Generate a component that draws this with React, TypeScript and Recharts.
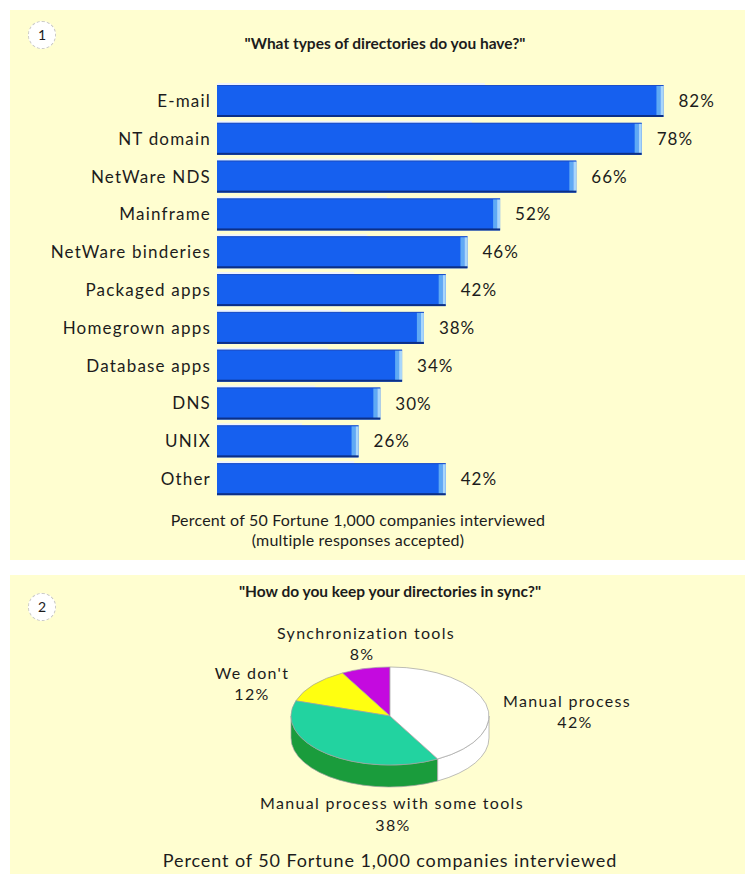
import React from "react";
import { BarChart, Bar, XAxis, YAxis, LabelList, PieChart, Pie } from "recharts";

// survey 1: directory types
const CATEGORIES = [
  "E-mail",
  "NT domain",
  "NetWare NDS",
  "Mainframe",
  "NetWare binderies",
  "Packaged apps",
  "Homegrown apps",
  "Database apps",
  "DNS",
  "UNIX",
  "Other",
];
const SHARES = [82, 78, 66, 52, 46, 42, 38, 34, 30, 26, 42];

// survey 2: sync methods
const SYNC_METHODS = [
  "Synchronization tools",
  "We don't",
  "Manual process with some tools",
  "Manual process",
];
const SYNC_SHARES = [8, 12, 38, 42];

const barRows = CATEGORIES.map((name, i) => ({ name, value: SHARES[i] }));
const pieRows = SYNC_METHODS.map((name, i) => ({ name, value: SYNC_SHARES[i] }));

const YELLOW = "#fffed0";
const FONT = "Lato, 'Open Sans', sans-serif";
const TEXT = "#1c1c1c";

const SLICE_TOP: Record<string, string> = {
  "Synchronization tools": "#c40adf",
  "We don't": "#ffff10",
  "Manual process with some tools": "#22d3a0",
  "Manual process": "#ffffff",
};
const SLICE_SIDE: Record<string, string> = {
  "Synchronization tools": "#9a08b0",
  "We don't": "#d8d800",
  "Manual process with some tools": "#1a9c3c",
  "Manual process": "#ffffff",
};
// label centre offsets from pie centre: name line, value line
const LABEL_SPOT: Record<string, [number, number, number, number]> = {
  "Synchronization tools": [-24, -84, -28, -63],
  "We don't": [-138, -44, -138, -23],
  "Manual process with some tools": [2, 86, 3, 108],
  "Manual process": [177, -16, 185, 5],
};

const TILT = 0.495;
const DEPTH = 22;
const RAD = Math.PI / 180;

function Bar3D(props: any) {
  const { x, y, width, height } = props;
  if (!width || width <= 0) return null;
  return (
    <g>
      <rect x={x} y={y - 2} width={width * 0.6} height={2} fill="#eef3ff" />
      <rect x={x} y={y} width={width} height={height} fill="#1660ef" />
      <rect x={x} y={y} width={width} height={1} fill="#1d4fc8" />
      <rect x={x + width - 7} y={y + 1} width={4} height={height - 2} fill="#5fa9f4" />
      <rect x={x + width - 3} y={y + 1} width={3} height={height - 2} fill="#a8d6fb" />
      <rect x={x} y={y + height - 2} width={width} height={2} fill="#0c2f86" />
    </g>
  );
}

function Slice3D(props: any) {
  const { cx, cy, outerRadius, startAngle, endAngle, payload } = props;
  const name = payload?.name ?? props.name;
  const rx = outerRadius;
  const ry = outerRadius * TILT;
  const pt = (a: number, dy = 0) =>
    `${cx + rx * Math.cos(a * RAD)},${cy - ry * Math.sin(a * RAD) + dy}`;
  const s = Math.min(startAngle, endAngle);
  const e = Math.max(startAngle, endAngle);
  const large = e - s > 180 ? 1 : 0;
  const top = `M${cx},${cy} L${pt(s)} A${rx},${ry} 0 ${large} 0 ${pt(e)} Z`;

  // front wall: the part of the rim between 180 and 360 degrees
  const walls: string[] = [];
  [[180, 360], [540, 720]].forEach(([lo, hi]) => {
    const a1 = Math.max(s, lo);
    const a2 = Math.min(e, hi);
    if (a2 > a1) {
      walls.push(
        `M${pt(a1)} A${rx},${ry} 0 0 0 ${pt(a2)} L${pt(a2, DEPTH)} A${rx},${ry} 0 0 1 ${pt(a1, DEPTH)} Z`
      );
    }
  });

  return (
    <g>
      {walls.map((d, i) => (
        <path key={i} d={d} fill={SLICE_SIDE[name]} stroke="#a0a0a0" strokeWidth={0.7} />
      ))}
      <path d={top} fill={SLICE_TOP[name]} stroke="#a0a0a0" strokeWidth={0.7} />
    </g>
  );
}

function SliceLabel(props: any) {
  const { cx, cy, name, value } = props;
  const spot = LABEL_SPOT[name] ?? [0, 0, 0, 20];
  const common = {
    textAnchor: "middle" as const,
    dominantBaseline: "central" as const,
    fill: TEXT,
    fontSize: 16,
    letterSpacing: 1.3,
    fontFamily: FONT,
  };
  return (
    <g>
      <text x={cx + spot[0]} y={cy + spot[1]} {...common}>{name}</text>
      <text x={cx + spot[2]} y={cy + spot[3]} {...common}>{`${value}%`}</text>
    </g>
  );
}

function Badge({ n, top }: { n: string; top: number }) {
  return (
    <div
      style={{
        position: "absolute",
        left: 28,
        top,
        width: 28,
        height: 28,
        borderRadius: "50%",
        background: "#fff",
        border: "1.5px dashed #c8c8c8",
        boxSizing: "border-box",
        textAlign: "center",
        lineHeight: "26px",
        fontSize: 14,
        color: TEXT,
      }}
    >
      {n}
    </div>
  );
}

const centered = (
  top: number,
  cx: number,
  size: number,
  bold = false,
  spacing = 0
): React.CSSProperties => ({
  position: "absolute",
  top,
  left: cx - 300,
  width: 600,
  textAlign: "center",
  fontSize: size,
  fontWeight: bold ? 700 : 400,
  letterSpacing: spacing,
  color: TEXT,
  lineHeight: `${size + 4}px`,
  whiteSpace: "nowrap",
});

export default function App() {
  return (
    <div
      style={{
        position: "absolute",
        left: 0,
        top: 0,
        width: 753,
        height: 874,
        background: "#fff",
        fontFamily: FONT,
        overflow: "hidden",
      }}
    >
      <div style={{ position: "absolute", left: 10, top: 10, width: 735, height: 550, background: YELLOW }} />
      <div style={{ position: "absolute", left: 10, top: 575, width: 735, height: 299, background: YELLOW }} />

      <Badge n="1" top={21} />
      <div style={centered(34, 385, 15.5, true)}>"What types of directories do you have?"</div>

      <div style={{ position: "absolute", left: 0, top: 0 }}>
        <BarChart
          width={753}
          height={510}
          data={barRows}
          layout="vertical"
          margin={{ top: 82, right: 46, bottom: 12, left: 0 }}
        >
          <XAxis type="number" domain={[0, 90]} hide />
          <YAxis
            type="category"
            dataKey="name"
            width={217}
            axisLine={false}
            tickLine={false}
            tickMargin={0}
            interval={0}
            tick={{ fill: TEXT, fontSize: 17, letterSpacing: 1.2, fontFamily: FONT }}
          />
          <Bar dataKey="value" barSize={32} shape={<Bar3D />} isAnimationActive={false}>
            <LabelList
              dataKey="value"
              position="right"
              offset={15}
              formatter={(v: any) => `${v}%`}
              style={{ fill: TEXT, fontSize: 17, letterSpacing: 1, fontFamily: FONT }}
            />
          </Bar>
        </BarChart>
      </div>

      <div style={centered(510, 358, 16, false, 0.2)}>Percent of 50 Fortune 1,000 companies interviewed</div>
      <div style={centered(530, 358, 16, false, 0.2)}>(multiple responses accepted)</div>

      <Badge n="2" top={593} />
      <div style={centered(582, 390, 15.5, true)}>"How do you keep your directories in sync?"</div>

      <div style={{ position: "absolute", left: 0, top: 575 }}>
        <PieChart width={753} height={270} margin={{ top: 0, right: 0, bottom: 0, left: 0 }}>
          <Pie
            data={pieRows}
            dataKey="value"
            nameKey="name"
            cx={390}
            cy={141}
            outerRadius={99}
            startAngle={90}
            endAngle={450}
            shape={<Slice3D />}
            label={<SliceLabel />}
            labelLine={false}
            isAnimationActive={false}
          />
        </PieChart>
      </div>

      <div style={centered(849, 390, 18, false, 0.9)}>Percent of 50 Fortune 1,000 companies interviewed</div>
    </div>
  );
}
